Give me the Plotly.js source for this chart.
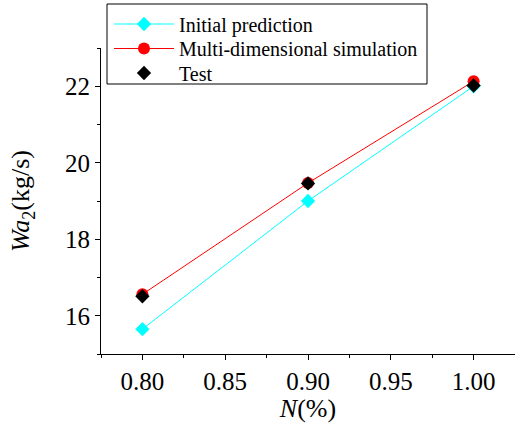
<!DOCTYPE html>
<html>
<head>
<meta charset="utf-8">
<script src="https://cdn.plot.ly/plotly-3.0.1.min.js"></script>
<style>html,body{margin:0;padding:0;background:#fff;}#chart{width:515px;height:423px;}</style>
</head>
<body>
<div id="chart"></div>
<script>
const speed = [0.80, 0.90, 1.00];
const initialPrediction = [15.65, 19.0, 22.0];
const multiDimSimulation = [16.56, 19.47, 22.13];
const testValues = [16.51, 19.46, 22.02];
const seriesNames = ["Initial prediction", "Multi-dimensional simulation", "Test"];

const font = "Liberation Serif";

const traces = [
  {x: speed, y: initialPrediction, name: seriesNames[0], type: "scatter", mode: "lines+markers", legend: "legend",
   line: {color: "#00ffff", width: 1}, marker: {symbol: "diamond", size: 11, color: "#00ffff"}},
  {x: speed, y: multiDimSimulation, name: seriesNames[1], type: "scatter", mode: "lines+markers", legend: "legend2",
   line: {color: "#ff0000", width: 1}, marker: {symbol: "circle", size: 12, color: "#ff0000"}},
  {x: speed, y: testValues, name: seriesNames[2], type: "scatter", mode: "markers", legend: "legend3",
   marker: {symbol: "diamond", size: 11, color: "#000000"}}
];

// plot area: left 101, top 48, width 414, height 306 (px)
function py(p) { return (354 - p) / 306; }
function px(p) { return (p - 101) / 414; }

function legendAt(rowY) {
  return {x: px(109), y: py(rowY), xanchor: "left", yanchor: "middle",
    borderwidth: 0, bgcolor: "rgba(0,0,0,0)", itemwidth: 60,
    font: {family: font, size: 20, color: "#000"}};
}

const layout = {
  width: 515, height: 423,
  margin: {l: 101, r: 0, t: 48, b: 69, pad: 0},
  paper_bgcolor: "#fff", plot_bgcolor: "#fff",
  font: {family: font, color: "#000"},
  showlegend: true,
  legend: legendAt(24),
  legend2: legendAt(48.5),
  legend3: legendAt(73),
  shapes: [{type: "rect", xref: "paper", yref: "paper", x0: px(107), x1: px(427), y0: py(84), y1: py(4),
    line: {color: "#000", width: 1}, fillcolor: "#fff", layer: "above"}],
  xaxis: {
    range: [0.775, 1.025], tickvals: [0.80, 0.85, 0.90, 0.95, 1.00],
    ticktext: ["0.80", "0.85", "0.90", "0.95", "1.00"],
    showgrid: false, zeroline: false, showline: true, linecolor: "#000", linewidth: 1,
    ticks: "outside", ticklen: 5, tickwidth: 1, tickcolor: "#000",
    minor: {tickvals: [0.775, 0.825, 0.875, 0.925, 0.975, 1.025], ticks: "outside", ticklen: 3, tickcolor: "#000", showgrid: false},
    tickfont: {family: font, size: 25, color: "#000"},
    title: {text: "<i>N</i>(%)", font: {family: font, size: 26, color: "#000"}, standoff: 6}
  },
  yaxis: {
    range: [15, 23], tickvals: [16, 18, 20, 22],
    showgrid: false, zeroline: false, showline: true, linecolor: "#000", linewidth: 1,
    ticks: "outside", ticklen: 5, tickwidth: 1, tickcolor: "#000",
    minor: {tickvals: [15, 17, 19, 21, 23], ticks: "outside", ticklen: 3, tickcolor: "#000", showgrid: false},
    tickfont: {family: font, size: 25, color: "#000"},
    title: {text: "<i>Wa</i><sub>2</sub>(kg/s)", font: {family: font, size: 26, color: "#000"}, standoff: 27}
  }
};

Plotly.newPlot("chart", traces, layout, {displayModeBar: false, staticPlot: true});
</script>
</body>
</html>
